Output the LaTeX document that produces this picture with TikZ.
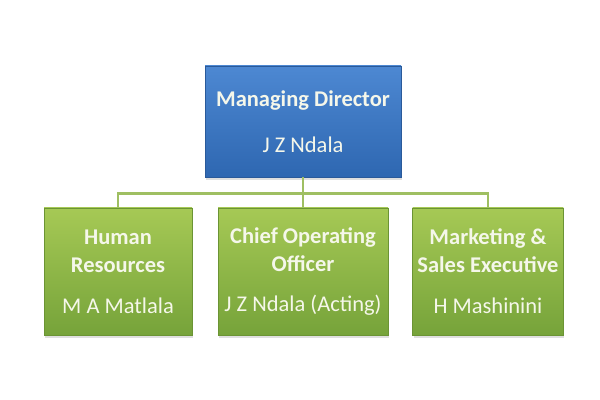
\documentclass[tikz,border=0pt]{standalone}
\usepackage{fontspec}
\setmainfont{Carlito}
\usepackage{tikz}
\usetikzlibrary{positioning,shadows}
\definecolor{bluetop}{HTML}{4D88D2}
\definecolor{bluebot}{HTML}{2E67B1}
\definecolor{blueedge}{HTML}{2A5A9A}
\definecolor{greentop}{HTML}{A6C955}
\definecolor{greenbot}{HTML}{76A33A}
\definecolor{greenedge}{HTML}{6B9434}
\definecolor{linkgreen}{HTML}{9FBF62}
\definecolor{boxtext}{HTML}{F5F7EA}

\begin{document}
\begin{tikzpicture}[
    head/.style={rectangle, draw=blueedge, top color=bluetop, bottom color=bluebot, minimum width=4.9cm, minimum height=2.775cm, align=center, text=boxtext, font=\fontsize{16}{20}\selectfont, drop shadow={opacity=0.25, shadow xshift=0.03cm, shadow yshift=-0.07cm}},
    dept/.style={rectangle, draw=greenedge, top color=greentop, bottom color=greenbot, minimum height=3.175cm, align=center, text=boxtext, font=\fontsize{16}{20}\selectfont, drop shadow={opacity=0.25, shadow xshift=0.03cm, shadow yshift=-0.07cm}},
    link/.style={draw=linkgreen, line width=2pt}
]
    \fill[white] (0,0) rectangle (15,10);
    \useasboundingbox (0,0) rectangle (15,10);

    \node[head] (MD) at (7.575,6.9625) {\textbf{Managing Director}\\[13pt]J Z Ndala};

    \node[dept, minimum width=3.7cm]  (HR)  at (2.95,3.2125)  {\textbf{Human}\\\textbf{Resources}\\[9pt]M A Matlala};
    \node[dept, minimum width=4.25cm] (COO) at (7.575,3.2125) {\textbf{Chief Operating}\\\textbf{Officer}\\[9pt]J Z Ndala (Acting)};
    \node[dept, minimum width=3.7cm]  (MSE) at (12.2,3.2125)  {\textbf{Marketing \&}\\\textbf{Sales Executive}\\[9pt]H Mashinini};

    \draw[link] (MD.south) -- ++(0,-0.4) -| (HR.north);
    \draw[link] (MD.south) -- ++(0,-0.4) -| (MSE.north);
    \draw[link] (MD.south) -- (COO.north);
\end{tikzpicture}
\end{document}
